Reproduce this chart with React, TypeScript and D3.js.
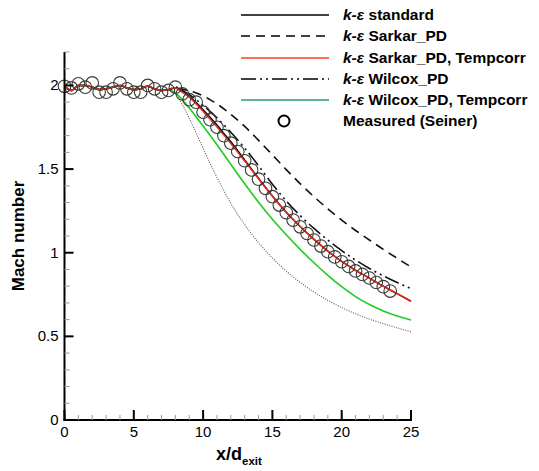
import React from "react";
import * as d3 from "d3";

// ---- data ----
const nearX = [0, 0.5, 1, 1.5, 2, 2.5, 3, 3.5, 4, 4.5, 5, 5.5, 6, 6.5, 7, 7.5];
const nearM = [1.995, 1.97, 2.0, 2.0, 1.99, 1.975, 1.98, 1.99, 2.0, 1.985, 1.975, 1.98, 1.995, 1.98, 1.97, 1.975];

const farX = [8, 8.5, 9, 9.5, 10, 10.5, 11, 11.5, 12, 13, 14, 15, 16, 17, 18, 19, 20, 21, 22, 23, 24, 25];
const standardM = [1.985, 1.962, 1.935, 1.898, 1.855, 1.81, 1.763, 1.713, 1.663, 1.555, 1.445, 1.339, 1.242, 1.157, 1.08, 1.01, 0.948, 0.895, 0.848, 0.8, 0.755, 0.71];
const sarkarM = [1.985, 1.978, 1.968, 1.955, 1.938, 1.915, 1.89, 1.86, 1.827, 1.755, 1.672, 1.585, 1.497, 1.413, 1.335, 1.262, 1.195, 1.133, 1.076, 1.02, 0.967, 0.915];
const sarkarTempM = [1.985, 1.96, 1.93, 1.89, 1.845, 1.8, 1.752, 1.703, 1.653, 1.548, 1.442, 1.338, 1.242, 1.157, 1.08, 1.01, 0.948, 0.895, 0.848, 0.8, 0.755, 0.71];
const wilcoxM = [1.99, 1.97, 1.945, 1.915, 1.88, 1.845, 1.806, 1.764, 1.72, 1.625, 1.52, 1.41, 1.31, 1.222, 1.145, 1.075, 1.012, 0.956, 0.906, 0.862, 0.822, 0.785];
const wilcoxTempM = [1.955, 1.915, 1.865, 1.812, 1.758, 1.702, 1.645, 1.587, 1.528, 1.412, 1.302, 1.2, 1.107, 1.02, 0.94, 0.865, 0.797, 0.738, 0.69, 0.652, 0.622, 0.598];
const dottedM = [1.95, 1.885, 1.805, 1.715, 1.625, 1.535, 1.45, 1.37, 1.295, 1.168, 1.06, 0.968, 0.89, 0.823, 0.765, 0.715, 0.672, 0.635, 0.603, 0.576, 0.551, 0.528];

const measuredX = [0, 0.5, 1, 1.5, 2, 2.5, 3, 3.5, 4, 4.5, 5, 5.5, 6, 6.5, 7, 7.5, 8, 8.5, 9, 9.5, 10, 10.5, 11, 11.5, 12, 12.5, 13, 13.5, 14, 14.5, 15, 15.5, 16, 16.5, 17, 17.5, 18, 18.5, 19, 19.5, 20, 20.5, 21, 21.5, 22, 22.5, 23, 23.5];
const measuredM = [1.995, 1.985, 2.01, 1.99, 2.015, 1.96, 1.96, 1.98, 2.015, 1.98, 1.96, 1.96, 2.0, 1.98, 1.96, 1.97, 1.99, 1.95, 1.915, 1.9, 1.84, 1.795, 1.75, 1.7, 1.655, 1.605, 1.55, 1.495, 1.44, 1.385, 1.335, 1.285, 1.24, 1.195, 1.155, 1.115, 1.076, 1.04, 1.006, 0.975, 0.946, 0.918, 0.891, 0.87, 0.849, 0.822, 0.797, 0.771];

const xMajor = [0, 5, 10, 15, 20, 25];
const xMinor = [1, 2, 3, 4, 6, 7, 8, 9, 11, 12, 13, 14, 16, 17, 18, 19, 21, 22, 23, 24];
const yMajor = [0, 0.5, 1, 1.5, 2];
const yMajorLabels = ["0", "0.5", "1", "1.5", "2"];
const yMinor = [0.1, 0.2, 0.3, 0.4, 0.6, 0.7, 0.8, 0.9, 1.1, 1.2, 1.3, 1.4, 1.6, 1.7, 1.8, 1.9, 2.1, 2.2];

const legendNames = ["standard", "Sarkar_PD", "Sarkar_PD, Tempcorr", "Wilcox_PD", "Wilcox_PD, Tempcorr", "Measured (Seiner)"];

const W = 539, H = 471;

export default function App() {
  const x = d3.scaleLinear().domain([0, 25]).range([64.5, 411]);
  const y = d3.scaleLinear().domain([0, 2.2]).range([420, 52]);
  const line = d3.line<[number, number]>().x(d => x(d[0])).y(d => y(d[1])).curve(d3.curveMonotoneX);
  const allX = nearX.concat(farX);
  const mk = (m: number[]) => line(allX.map((xx, i) => [xx, nearM.concat(m)[i]] as [number, number])) || "";

  const series = [
    { m: dottedM, stroke: "#666", w: 1.2, dash: "1,1.4" },
    { m: sarkarM, stroke: "#111", w: 1.6, dash: "9,6" },
    { m: wilcoxM, stroke: "#111", w: 1.6, dash: "15,4,2,4,2,4" },
    { m: wilcoxTempM, stroke: "#1fcc1f", w: 1.6, dash: "" },
    { m: standardM, stroke: "#000", w: 1.5, dash: "" },
    { m: sarkarTempM, stroke: "#ee2a1a", w: 1.5, dash: "" },
  ];

  const legendY = [15, 36, 58, 79, 100, 121];
  const legendLines = [
    { stroke: "#000", dash: "" },
    { stroke: "#000", dash: "9,6" },
    { stroke: "#ff3b1f", dash: "" },
    { stroke: "#000", dash: "15,4,2,4,2,4" },
    { stroke: "#2e9e6e", dash: "" },
  ];

  const font = "'Liberation Sans', Arial, Helvetica, sans-serif";

  return (
    <svg width={W} height={H} style={{ position: "absolute", left: 0, top: 0, background: "#fff" }} fontFamily={font}>
      <rect width={W} height={H} fill="#fff" />
      {series.map((s, i) => (
        <path key={i} d={mk(s.m)} fill="none" stroke={s.stroke} strokeWidth={s.w} strokeDasharray={s.dash || undefined} />
      ))}
      {measuredX.map((xx, i) => (
        <circle key={i} cx={x(xx)} cy={y(measuredM[i])} r={6.3} fill="none" stroke="#3a3a3a" strokeWidth={1.1} />
      ))}
      <line x1={x(0)} x2={x(0)} y1={y(2.2)} y2={y(0) + 1} stroke="#000" strokeWidth={2} />
      <line x1={x(0) - 1} x2={x(25) + 1} y1={y(0)} y2={y(0)} stroke="#000" strokeWidth={2} />
      {yMinor.map(v => (
        <line key={"ym" + v} x1={x(0)} x2={x(0) + 5} y1={y(v)} y2={y(v)} stroke="#999" strokeWidth={1} />
      ))}
      {yMajor.map((v, i) => (
        <g key={"yM" + v}>
          <line x1={x(0)} x2={x(0) + 9} y1={y(v)} y2={y(v)} stroke="#000" strokeWidth={2} />
          <text x={x(0) - 6} y={y(v) + 5} fontSize={15} textAnchor="end">{yMajorLabels[i]}</text>
        </g>
      ))}
      {xMinor.map(v => (
        <line key={"xm" + v} x1={x(v)} x2={x(v)} y1={y(0)} y2={y(0) - 5} stroke="#999" strokeWidth={1} />
      ))}
      {xMajor.map(v => (
        <g key={"xM" + v}>
          <line x1={x(v)} x2={x(v)} y1={y(0)} y2={y(0) - 10} stroke="#000" strokeWidth={2} />
          <text x={x(v)} y={y(0) + 17} fontSize={15} textAnchor="middle">{v}</text>
        </g>
      ))}
      <text x={216} y={460} fontSize={18} fontWeight="bold">x/d<tspan fontSize={11.5} dy={5}>exit</tspan></text>
      <text transform="translate(24,236) rotate(-90)" fontSize={17} fontWeight="bold" textAnchor="middle">Mach number</text>
      {legendLines.map((l, i) => (
        <line key={"ll" + i} x1={241} x2={329} y1={legendY[i]} y2={legendY[i]} stroke={l.stroke} strokeWidth={1.6} strokeDasharray={l.dash || undefined} />
      ))}
      <circle cx={284} cy={legendY[5]} r={5.5} fill="none" stroke="#000" strokeWidth={2} />
      {legendNames.map((n, i) => (
        <text key={"lt" + i} x={343} y={legendY[i] + 5} fontSize={15.5} fontWeight="bold">
          {i < 5 ? <tspan fontStyle="italic">k-ε </tspan> : null}
          {n}
        </text>
      ))}
    </svg>
  );
}
